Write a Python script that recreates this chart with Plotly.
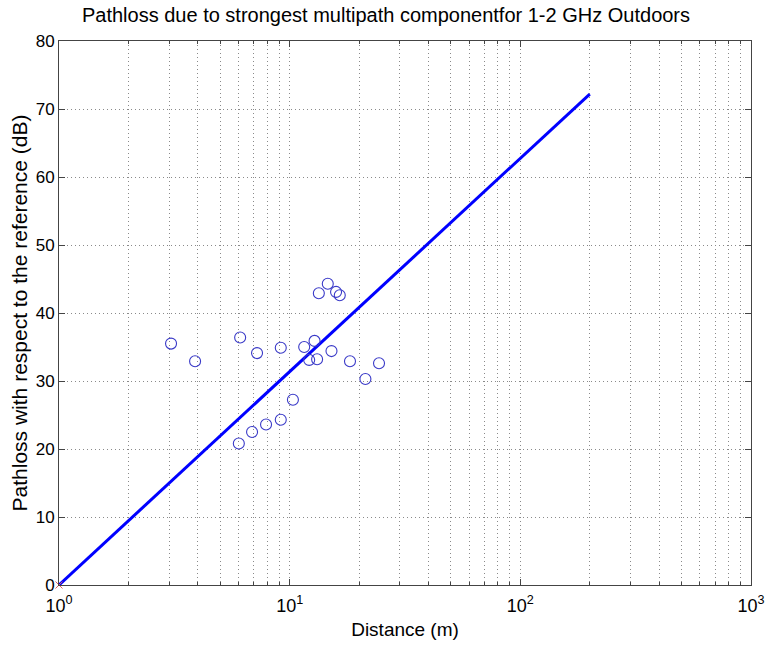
import plotly.graph_objects as go

# measured points
dist_m = [3.06, 3.89, 6.10, 7.22, 9.15, 11.56, 12.82, 12.15, 13.15, 15.18, 18.26,
          24.4, 21.3, 10.33, 9.15, 7.90, 6.87, 6.02, 13.38, 14.63, 15.89, 16.49]
pathloss_db = [35.5, 32.9, 36.4, 34.1, 34.9, 35.0, 35.9, 33.1, 33.2, 34.4, 32.9,
               32.6, 30.3, 27.25, 24.3, 23.6, 22.5, 20.8, 42.9, 44.3, 43.1, 42.6]

# fitted line
fit_x = [1, 200]
fit_y = [0, 72.2]

# reference point
ref_x = [1]
ref_y = [0]

x_tickvals = [1, 10, 100, 1000]
x_ticktext = ["10<sup>0</sup>", "10<sup>1</sup>", "10<sup>2</sup>", "10<sup>3</sup>"]
x_minor = [m * d for d in (1, 10, 100) for m in range(2, 10)]
y_tickvals = list(range(0, 81, 10))

font = "Liberation Sans, Arial, sans-serif"
grid_dash = "1px,3px"
grid_col = "#8a8a8a"

fig = go.Figure()
fig.add_trace(go.Scatter(x=fit_x, y=fit_y, mode="lines",
                         line=dict(color="#0000ff", width=3), showlegend=False))
fig.add_trace(go.Scatter(x=dist_m, y=pathloss_db, mode="markers",
                         marker=dict(symbol="circle-open", size=11, color="#3a3ac8",
                                     line=dict(width=1.1, color="#3a3ac8")),
                         showlegend=False))
fig.add_trace(go.Scatter(x=ref_x, y=ref_y, mode="markers", cliponaxis=False,
                         marker=dict(symbol="x-thin-open", size=7, color="#e06060",
                                     line=dict(width=1, color="#e06060")),
                         showlegend=False))

fig.update_layout(
    width=772, height=647,
    margin=dict(l=59, r=21, t=41, b=62, autoexpand=False),
    paper_bgcolor="white", plot_bgcolor="white",
    font=dict(family=font, color="black"),
    title=dict(text="Pathloss due to strongest multipath componentfor 1-2 GHz Outdoors",
               x=0.5, xanchor="center", y=1 - 15 / 647, yanchor="middle",
               font=dict(size=20, family=font)),
)
fig.update_xaxes(
    type="log", range=[0, 3], automargin=False,
    tickvals=x_tickvals, ticktext=x_ticktext,
    tickfont=dict(size=18), ticks="inside", ticklen=6, tickcolor="#444",
    ticklabelstandoff=4,
    showline=True, linecolor="#444", linewidth=1, mirror="ticks",
    showgrid=True, gridcolor=grid_col, griddash=grid_dash, gridwidth=1,
    minor=dict(tickvals=x_minor, showgrid=True, gridcolor=grid_col, griddash=grid_dash,
               ticks="inside", ticklen=3, tickcolor="#444"),
    zeroline=False,
    title=dict(text="Distance (m)", font=dict(size=19), standoff=8),
)
fig.update_yaxes(
    range=[0, 80], automargin=False, tickvals=y_tickvals,
    tickfont=dict(size=17), ticks="inside", ticklen=6, tickcolor="#444",
    showline=True, linecolor="#444", linewidth=1, mirror="ticks",
    showgrid=True, gridcolor=grid_col, griddash=grid_dash, gridwidth=1,
    zeroline=False,
    title=dict(text="Pathloss with respect to the reference (dB)", font=dict(size=21), standoff=2),
)

fig.write_html("out.html")
